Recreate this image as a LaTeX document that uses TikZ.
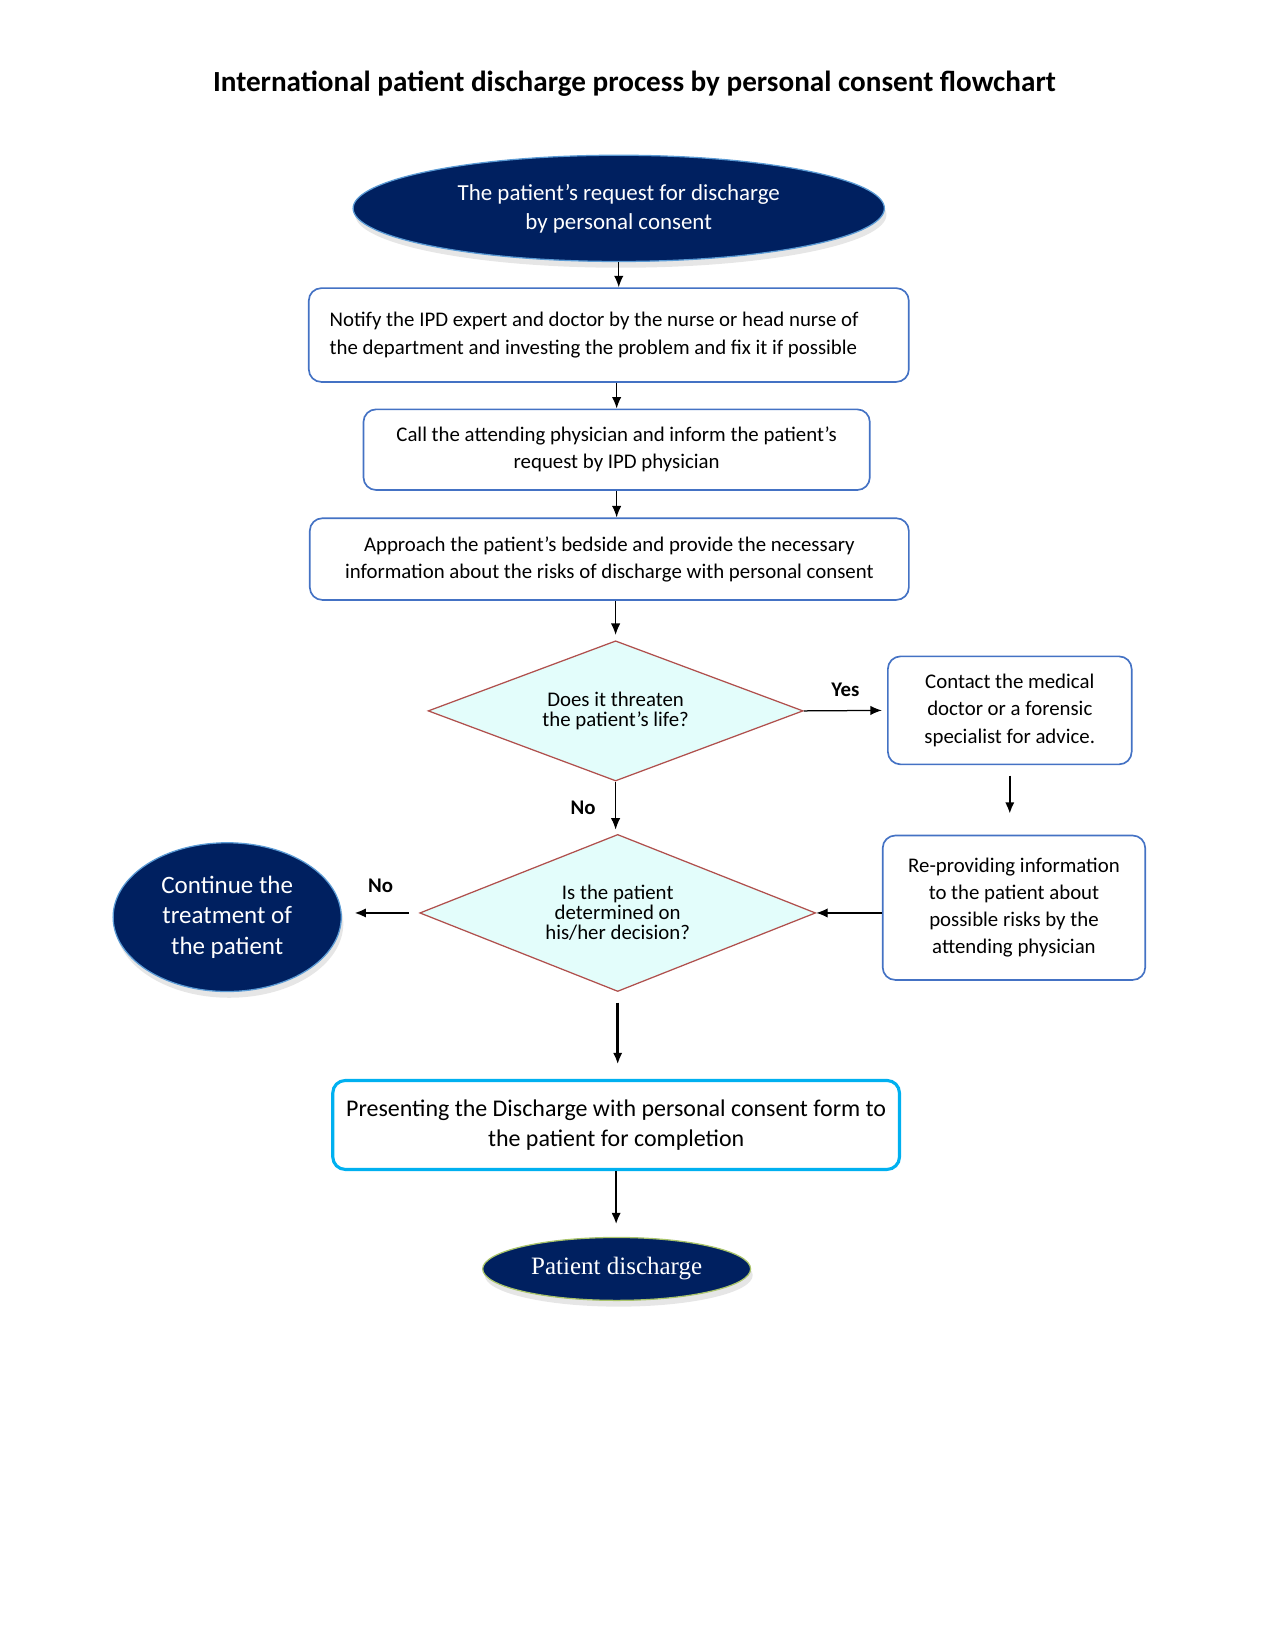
\documentclass[tikz,border=0pt]{standalone}
\usepackage{fontspec}
\setmainfont{Carlito}
\newfontfamily\timesfont{Liberation Serif}
\usepackage{tikz}
\usetikzlibrary{shapes}
\usetikzlibrary{shapes.geometric}
\usetikzlibrary{shadows}
\usetikzlibrary{arrows.meta}
\usetikzlibrary{calc}

\definecolor{navy}{HTML}{002060}
\definecolor{boxblue}{HTML}{4472C4}
\definecolor{skyline}{HTML}{00B0F0}
\definecolor{decfill}{HTML}{E3FDFB}
\definecolor{decline}{HTML}{B0504D}
\definecolor{ovalrim}{HTML}{5B9BD5}
\definecolor{greenrim}{HTML}{A9C46A}

\begin{document}
\begin{tikzpicture}[x=0.5025pt,y=-0.5025pt,>={Latex[length=5.5pt,width=4.5pt]},
    step box/.style={draw=boxblue, line width=0.8pt, rounded corners=6pt, inner sep=0pt,
      fill=white, font=\fontsize{10}{13}\selectfont, align=center},
    oval/.style={ellipse, draw=ovalrim, line width=0.6pt, fill=navy, text=white, inner sep=0pt,
      align=center, drop shadow={opacity=0.2, shadow xshift=1pt, shadow yshift=-3pt}},
    decision/.style={diamond, draw=decline, line width=0.6pt, fill=decfill, inner sep=0pt,
      align=center, font=\fontsize{10}{9.5}\selectfont},
    yesno/.style={font=\fontsize{10}{12}\selectfont\bfseries},
    thin arrow/.style={->, line width=0.6pt},
    thick arrow/.style={->, line width=1.2pt}]
      \useasboundingbox (0,0) rectangle (1218,1576);

      \node[font=\fontsize{14}{17}\selectfont\bfseries] (title) at (606, 80)
        {International patient discharge process by personal consent flowchart};

      \node[oval, minimum width=255pt, minimum height=51pt, font=\fontsize{11}{14}\selectfont] (request) at (591, 199)
        {The patient’s request for discharge\\by personal consent};

      \node[step box, text width=268pt, inner xsep=10pt, minimum height=45pt, align=flush left] (notify) at (581.5, 320)
        {Notify the IPD expert and doctor by the nurse or head nurse of\\the department and investing the problem and fix it if possible};
      \node[step box, minimum width=243pt, minimum height=38.7pt] (call) at (589, 429.5)
        {Call the attending physician and inform the patient’s\\request by IPD physician};
      \node[step box, minimum width=287.5pt, minimum height=39.2pt] (approach) at (582, 534)
        {Approach the patient’s bedside and provide the necessary\\information about the risks of discharge with personal consent};

      \node[decision, shape aspect=2.67, minimum width=180pt, minimum height=67.3pt] (threat) at (588, 679)
        {Does it threaten\\the patient’s life?};
      \node[step box, minimum width=117pt, minimum height=51.8pt] (contact) at (964.5, 678.5)
        {Contact the medical\\doctor or a forensic\\specialist for advice.};

      \node[decision, shape aspect=2.52, minimum width=190pt, minimum height=75.4pt] (decided) at (590, 872)
        {Is the patient\\determined on\\his/her decision?};
      \node[step box, minimum width=126pt, minimum height=69.3pt] (reinform) at (968.5, 867)
        {Re-providing information\\to the patient about\\possible risks by the\\attending physician};
      \node[oval, minimum width=109.5pt, minimum height=71.4pt, font=\fontsize{12}{14.5}\selectfont] (continue) at (217, 876)
        {Continue the\\treatment of\\the patient};

      \node[step box, draw=skyline, line width=1.5pt, minimum width=272pt, minimum height=42.7pt,
        font=\fontsize{11.5}{14.5}\selectfont] (form) at (588.5, 1074.5)
        {Presenting the Discharge with personal consent form to\\the patient for completion};
      \node[oval, draw=greenrim, minimum width=128.6pt, minimum height=30.2pt,
        font=\timesfont\fontsize{12}{14}\selectfont] (discharge) at (589, 1212) {Patient discharge};

      \draw[thin arrow] (request.south) -- (request.south |- notify.north);
      \draw[thin arrow] (call.north |- notify.south) -- (call.north);
      \draw[thin arrow] (call.south) -- (call.south |- approach.north);
      \draw[thin arrow, shorten >=2.5pt] (threat.north |- approach.south) -- (threat.north);

      \draw[thin arrow, shorten >=2.5pt] (threat.east) -- node[yesno, above=3pt] {Yes} (contact.west);
      \draw[thick arrow, shorten <=5pt, shorten >=10pt] (contact.south) -- (contact.south |- reinform.north);
      \draw[thin arrow, shorten >=2pt] (threat.south) -- node[yesno, left=6pt] {No} (threat.south |- decided.north);
      \draw[thin arrow] (reinform.west |- decided.east) -- (decided.east);
      \draw[thick arrow, shorten <=5pt, shorten >=6pt] (decided.west) -- node[yesno, above=6pt] {No} (decided.west -| continue.east);

      \draw[thick arrow, shorten <=5pt, shorten >=7pt] (decided.south) -- (decided.south |- form.north);
      \draw[thick arrow, shorten >=6pt] (form.south) -- (form.south |- discharge.north);
    \end{tikzpicture}
\end{document}
